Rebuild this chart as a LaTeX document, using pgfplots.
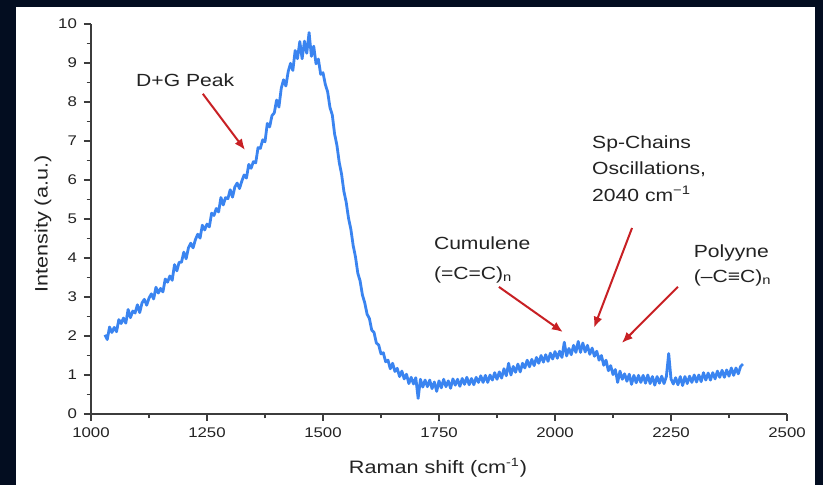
\documentclass[border=0pt]{standalone}
\usepackage{fontspec}
\setmainfont{Liberation Sans}[FakeStretch=1.2]
\usepackage{pgfplots}
\pgfplotsset{compat=1.18}
\usetikzlibrary{arrows.meta}
\definecolor{navy}{RGB}{3,13,32}
\definecolor{specblue}{RGB}{58,132,240}
\definecolor{arrowred}{RGB}{200,32,36}
\definecolor{axgray}{RGB}{60,60,60}
\definecolor{txt}{RGB}{35,35,35}

\begin{document}
\begin{tikzpicture}
% frame: 1px = 0.5pt, axis origin at pixel (91,414)
\fill[navy] (-45.5pt,-45pt) rectangle (366pt,207pt);
\fill[white] (-37.5pt,-45pt) rectangle (362pt,203.5pt);

\begin{axis}[
  scale only axis,
  width=348pt, height=195pt,
  xmin=1000, xmax=2500,
  ymin=0, ymax=10,
  axis lines=left,
  axis line style={-, axgray, line width=0.6pt},
  tick align=outside,
  tick style={axgray, line width=0.6pt},
  major tick length=3.5pt,
  minor tick length=2.2pt,
  minor tick num=1,
  xtick={1000,1250,...,2500},
  ytick={0,1,...,10},
  /pgf/number format/assume math mode=true,
  /pgf/number format/1000 sep={},
  ticklabel style={font=\fontsize{7}{8}\selectfont, text=txt},
  xlabel={Raman shift (cm\textsuperscript{-1})},
  ylabel={Intensity (a.u.)},
  label style={font=\fontsize{9}{10}\selectfont, text=txt},
  xlabel style={at={(axis description cs:0.4986,-0.138)}, anchor=center},
  ylabel style={at={(axis description cs:-0.069,0.487)}, anchor=center},
  clip=false,
]

\addplot[color=specblue, line width=1.4pt, line join=round] coordinates {
(1030,2.03)(1035,1.91)(1040,2.23)(1045,2.09)(1050,2.22)(1055,2.11)(1060,2.42)(1065,2.32)
(1070,2.46)(1075,2.33)(1080,2.68)(1085,2.47)(1090,2.64)(1095,2.59)(1100,2.80)(1105,2.60)
(1110,2.85)(1115,2.94)(1120,2.79)(1125,2.97)(1130,3.08)(1135,2.95)(1140,3.25)(1145,3.10)
(1150,3.22)(1155,3.13)(1160,3.46)(1165,3.38)(1170,3.54)(1175,3.43)(1180,3.83)(1185,3.67)
(1190,3.89)(1195,3.89)(1200,4.15)(1205,3.98)(1210,4.26)(1215,4.38)(1220,4.26)(1225,4.47)
(1230,4.61)(1235,4.51)(1240,4.84)(1245,4.72)(1250,4.87)(1255,4.80)(1260,5.15)(1265,5.09)
(1270,5.27)(1275,5.18)(1280,5.55)(1285,5.36)(1290,5.55)(1295,5.52)(1300,5.75)(1305,5.56)
(1310,5.82)(1315,5.92)(1320,5.78)(1325,5.97)(1330,6.13)(1335,6.05)(1340,6.40)(1345,6.30)
(1350,6.47)(1355,6.44)(1360,6.83)(1365,6.81)(1370,7.03)(1375,6.98)(1380,7.45)(1385,7.36)
(1390,7.65)(1395,7.72)(1400,8.05)(1405,7.87)(1410,8.35)(1415,8.57)(1420,8.41)(1425,8.78)
(1430,8.99)(1435,8.81)(1440,9.32)(1445,9.11)(1450,9.55)(1455,9.11)(1460,9.56)(1465,9.25)
(1470,9.78)(1475,9.17)(1480,9.43)(1485,8.98)(1490,9.10)(1495,8.71)(1500,8.75)(1505,8.45)
(1510,8.26)(1515,7.86)(1520,7.67)(1525,7.18)(1530,6.89)(1535,6.45)(1540,6.15)(1545,5.71)
(1550,5.43)(1555,5.02)(1560,4.74)(1565,4.32)(1570,4.03)(1575,3.61)(1580,3.41)(1585,3.05)
(1590,2.85)(1595,2.56)(1600,2.45)(1605,2.15)(1610,2.09)(1615,1.82)(1620,1.77)(1625,1.54)
(1630,1.57)(1635,1.34)(1640,1.38)(1645,1.16)(1650,1.30)(1655,1.09)(1660,1.17)(1665,0.96)
(1670,1.10)(1675,0.90)(1680,1.02)(1685,0.78)(1690,0.94)(1695,0.77)(1700,0.93)(1705,0.40)
(1710,0.89)(1715,0.69)(1720,0.87)(1725,0.70)(1730,0.87)(1735,0.65)(1740,0.82)(1745,0.58)
(1750,0.85)(1755,0.67)(1760,0.89)(1765,0.70)(1770,0.85)(1775,0.66)(1780,0.90)(1785,0.74)
(1790,0.89)(1795,0.71)(1800,0.91)(1805,0.76)(1810,0.94)(1815,0.75)(1820,0.91)(1825,0.75)
(1830,0.94)(1835,0.81)(1840,0.98)(1845,0.81)(1850,0.99)(1855,0.81)(1860,1.00)(1865,0.87)
(1870,1.06)(1875,0.89)(1880,1.08)(1885,0.92)(1890,1.16)(1895,0.98)(1900,1.30)(1905,1.00)
(1910,1.22)(1915,1.07)(1920,1.28)(1925,1.08)(1930,1.30)(1935,1.18)(1940,1.38)(1945,1.21)
(1950,1.40)(1955,1.24)(1960,1.45)(1965,1.30)(1970,1.50)(1975,1.33)(1980,1.52)(1985,1.35)
(1990,1.56)(1995,1.41)(2000,1.60)(2005,1.43)(2010,1.61)(2015,1.45)(2020,1.84)(2025,1.49)
(2030,1.68)(2035,1.52)(2040,1.76)(2045,1.58)(2050,1.86)(2055,1.58)(2060,1.82)(2065,1.59)
(2070,1.76)(2075,1.53)(2080,1.69)(2085,1.48)(2090,1.61)(2095,1.38)(2100,1.50)(2105,1.25)
(2110,1.38)(2115,1.11)(2120,1.24)(2125,1.01)(2130,1.14)(2135,0.81)(2140,1.10)(2145,0.89)
(2150,1.03)(2155,0.84)(2160,1.02)(2165,0.76)(2170,0.99)(2175,0.80)(2180,0.99)(2185,0.81)
(2190,0.99)(2195,0.79)(2200,1.00)(2205,0.78)(2210,0.96)(2215,0.74)(2220,0.96)(2225,0.79)
(2230,0.97)(2235,0.78)(2240,0.96)(2245,1.55)(2250,0.90)(2255,0.77)(2260,0.93)(2265,0.75)
(2270,0.96)(2275,0.73)(2280,0.96)(2285,0.78)(2290,0.97)(2295,0.81)(2300,1.00)(2305,0.82)
(2310,1.00)(2315,0.83)(2320,1.06)(2325,0.87)(2330,1.05)(2335,0.87)(2340,1.06)(2345,0.90)
(2350,1.10)(2355,0.94)(2360,1.12)(2365,0.94)(2370,1.13)(2375,0.97)(2380,1.18)(2385,0.99)
(2390,1.18)(2395,1.03)(2400,1.22)(2405,1.28)
};

% annotations
\begin{scope}[font=\fontsize{8.8}{10}\selectfont, text=txt]
\node[anchor=center] at (axis cs:1203,8.56) {D+G Peak};
\node[anchor=base west] at (axis cs:2065,6.82) {Sp-Chains};
\node[anchor=base west] at (axis cs:2065,6.15) {Oscillations,};
\node[anchor=base west] at (axis cs:2065,5.44) {2040 cm\textsuperscript{−1}};
\node[anchor=base west] at (axis cs:1724,4.21) {Cumulene};
\node[anchor=base west] at (axis cs:1724,3.46) {(=C=C)\textsubscript{n}};
\node[anchor=base west] at (axis cs:2284,4.00) {Polyyne};
\node[anchor=base west] at (axis cs:2284,3.38) {(–C≡C)\textsubscript{n}};
\end{scope}
\begin{scope}[arrowred, line width=1pt, -{Latex[length=5.5pt,width=4.5pt]}]
\draw (axis cs:1241,8.21) -- (axis cs:1332,6.77);
\draw (axis cs:2166,4.77) -- (axis cs:2084,2.21);
\draw (axis cs:1879,3.26) -- (axis cs:2017,2.10);
\draw (axis cs:2265,3.26) -- (axis cs:2144,1.82);
\end{scope}
\end{axis}
\pgfresetboundingbox
\path (-45.5pt,-35.5pt) rectangle (366pt,207pt);
\end{tikzpicture}
\end{document}
